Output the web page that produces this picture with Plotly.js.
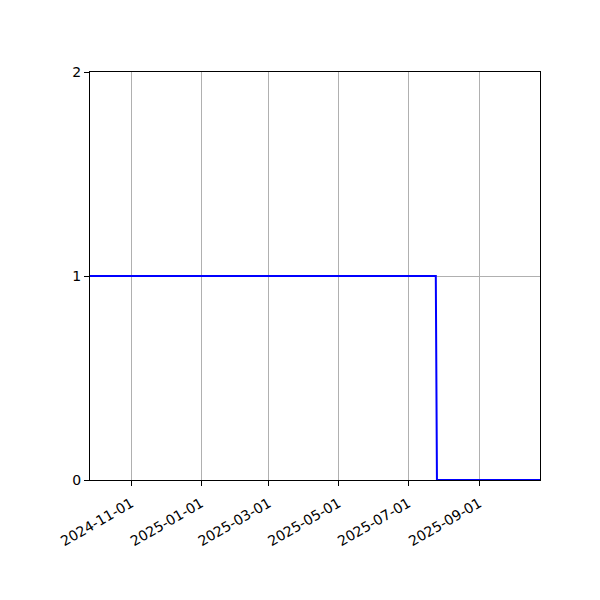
<!DOCTYPE html>
<html>
<head>
<meta charset="utf-8">
<script src="https://cdn.plot.ly/plotly-3.0.1.min.js"></script>
<style>
  body { margin: 0; background: #fff; }
  #chart { width: 600px; height: 600px; }
</style>
</head>
<body>
<div id="chart"></div>
<script>
// step series: value 1 until late July 2025, then 0
let dates = ['2024-09-26', '2025-07-25', '2025-07-26', '2025-10-24'];
let values = [1, 1, 0, 0];

let tickDates = ['2024-11-01', '2025-01-01', '2025-03-01', '2025-05-01', '2025-07-01', '2025-09-01'];
let yTicks = [0, 1, 2];

let trace = {
    x: dates,
    y: values,
    mode: 'lines',
    line: { color: '#0000ff', width: 2 },
    hoverinfo: 'skip'
};

let layout = {
    width: 600,
    height: 600,
    margin: { l: 90, r: 60, t: 72, b: 120 },
    paper_bgcolor: '#ffffff',
    plot_bgcolor: '#ffffff',
    showlegend: false,
    font: { family: 'DejaVu Sans', size: 14, color: '#000000' },
    xaxis: {
        type: 'date',
        range: [dates[0], dates[dates.length - 1]],
        tickvals: tickDates,
        ticktext: tickDates,
        tickangle: -30,
        ticks: 'outside',
        ticklen: 5,
        tickwidth: 1,
        tickcolor: '#000',
        ticklabelstandoff: 4,
        showgrid: true,
        gridcolor: '#b0b0b0',
        gridwidth: 1,
        showline: true,
        linecolor: '#000',
        linewidth: 1,
        mirror: true,
        zeroline: false
    },
    yaxis: {
        range: [0, 2],
        tickvals: yTicks,
        ticktext: yTicks.map(String),
        ticks: 'outside',
        ticklen: 5,
        tickwidth: 1,
        tickcolor: '#000',
        showgrid: true,
        gridcolor: '#b0b0b0',
        gridwidth: 1,
        showline: true,
        linecolor: '#000',
        linewidth: 1,
        mirror: true,
        zeroline: false
    }
};

Plotly.newPlot('chart', [trace], layout, { displayModeBar: false, staticPlot: true });
</script>
</body>
</html>
